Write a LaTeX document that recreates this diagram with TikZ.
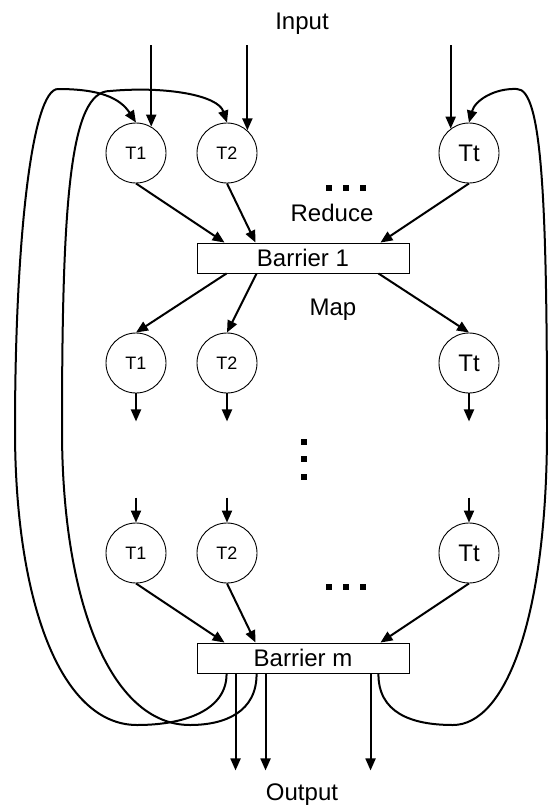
\documentclass[tikz,border=0pt]{standalone}
\usepackage{fontspec}
\setmainfont{Liberation Sans}
\usetikzlibrary{arrows.meta,calc}
\begin{document}
\begin{tikzpicture}[x=1pt,y=-1pt,
  task/.style={draw, circle, minimum size=60pt, inner sep=0pt, line width=0.9pt,
    font=\fontsize{18}{20}\selectfont},
  taskt/.style={task, font=\fontsize{24}{26}\selectfont},
  barrierbox/.style={draw, rectangle, minimum width=212pt, minimum height=30pt,
    inner sep=0pt, line width=0.9pt, font=\fontsize{24}{26}\selectfont},
  caption/.style={font=\fontsize{24}{26}\selectfont, inner sep=0pt},
  flowarrow/.style={line width=2pt, -{Triangle[length=12pt,width=10pt]}},
  feedback/.style={flowarrow},
  sqdot/.style={rectangle, fill=black, minimum size=6pt, inner sep=0pt}
]
\useasboundingbox (0,0) rectangle (548,807);

% labels
\node[caption] (input)  at (302,24)  {Input};
\node[caption] (reduce) at (332,213) {Reduce};
\node[caption] (map)    at (333,310) {Map};
\node[caption] (output) at (302,795) {Output};

% first stage
\node[task]  (a1) at (136,153) {T1};
\node[task]  (a2) at (227,153) {T2};
\node[taskt] (at) at (469,153) {Tt};
\node[barrierbox] (b1) at (303,258) {Barrier 1};

% second stage
\node[task]  (c1) at (136,363) {T1};
\node[task]  (c2) at (227,363) {T2};
\node[taskt] (ct) at (469,363) {Tt};

% last stage
\node[task]  (d1) at (136,553) {T1};
\node[task]  (d2) at (227,553) {T2};
\node[taskt] (dt) at (469,553) {Tt};
\node[barrierbox] (bm) at (303,658) {Barrier m};

% ellipses
\node[sqdot] (e1) at (329,188) {};
\node[sqdot] (e2) at (346,188) {};
\node[sqdot] (e3) at (363,188) {};
\node[sqdot] (v1) at (304,442) {};
\node[sqdot] (v2) at (304,459) {};
\node[sqdot] (v3) at (304,477) {};
\node[sqdot] (f1) at (329,587) {};
\node[sqdot] (f2) at (346,587) {};
\node[sqdot] (f3) at (363,587) {};

% input arrows
\coordinate (intop) at (0,45);
\draw[flowarrow] (a1.60 |- intop) -- (a1.60);
\draw[flowarrow] (a2.48 |- intop) -- (a2.48);
\draw[flowarrow] (at.127 |- intop) -- (at.127);

% reduce into barrier 1
\draw[flowarrow] (a1.south) -- ($(b1.north west)+(28,0)$);
\draw[flowarrow] (a2.south) -- ($(b1.north west)+(59,0)$);
\draw[flowarrow] (at.south) -- ($(b1.north east)+(-29,0)$);

% map out of barrier 1
\draw[flowarrow] ($(b1.south west)+(30,0)$) -- (c1.north);
\draw[flowarrow] ($(b1.south west)+(60,0)$) -- (c2.north);
\draw[flowarrow] ($(b1.south east)+(-31,0)$) -- (ct.north);

% continuing stages
\draw[flowarrow] (c1.south) -- ++(0,28);
\draw[flowarrow] (c2.south) -- ++(0,28);
\draw[flowarrow] (ct.south) -- ++(0,28);
\draw[flowarrow] ($(d1.north)+(0,-25)$) -- (d1.north);
\draw[flowarrow] ($(d2.north)+(0,-25)$) -- (d2.north);
\draw[flowarrow] ($(dt.north)+(0,-25)$) -- (dt.north);

% reduce into barrier m
\draw[flowarrow] (d1.south) -- ($(bm.north west)+(28,0)$);
\draw[flowarrow] (d2.south) -- ($(bm.north west)+(59,0)$);
\draw[flowarrow] (dt.south) -- ($(bm.north east)+(-29,0)$);

% outputs
\draw[flowarrow] ($(bm.south west)+(39,0)$) -- ++(0,97);
\draw[flowarrow] ($(bm.south west)+(69,0)$) -- ++(0,97);
\draw[flowarrow] ($(bm.south west)+(174,0)$) -- ++(0,97);

% feedback loops back to the first stage
\draw[feedback] ($(bm.south west)+(30,0)$) .. controls (227,710) and (185,725) .. (137,725)
  .. controls (60,725) and (15,600) .. (15,430)
  .. controls (15,240) and (32,89) .. (58,89)
  .. controls (100,89) and (120,98) .. (a1.north);
\draw[feedback] ($(bm.south west)+(60,0)$) .. controls (257,712) and (225,725) .. (190,725)
  .. controls (110,725) and (62,600) .. (62,430)
  .. controls (62,200) and (70,91) .. (110,91)
  .. controls (165,86) and (218,95) .. (a2.north);
\draw[feedback] ($(bm.south east)+(-31,0)$) .. controls (378,712) and (410,725) .. (453,725)
  .. controls (505,725) and (547,620) .. (547,430)
  .. controls (547,200) and (542,89) .. (517,89)
  .. controls (495,88) and (475,100) .. (at.north);
\end{tikzpicture}
\end{document}
